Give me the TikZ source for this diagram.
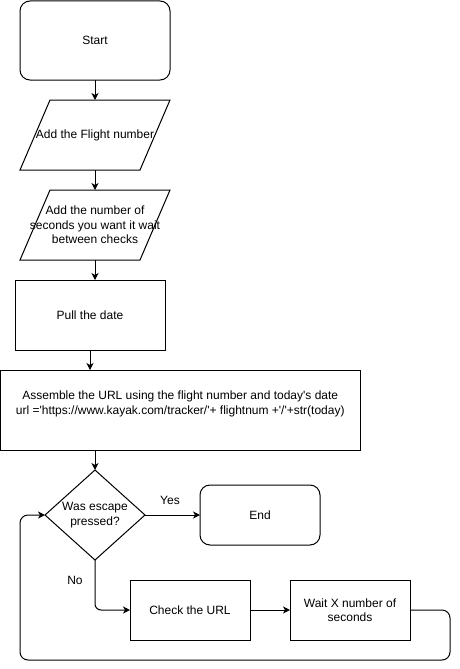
\documentclass[tikz,border=0pt]{standalone}
\usepackage{fontspec}
\setmainfont{Liberation Sans}
\usetikzlibrary{arrows.meta,calc}
\begin{document}
\begin{tikzpicture}[x=1pt,y=-1pt,
  every node/.style={font=\fontsize{12}{14.4}\selectfont, outer sep=0pt, inner sep=0pt, align=center},
  box/.style={draw, line width=1pt, rectangle},
  term/.style={draw, line width=1pt, rectangle, rounded corners=10pt},
  ghost/.style={rectangle},
  link/.style={line width=1pt, -{Stealth[length=7pt,width=7pt,inset=2pt]}},
  lbl/.style={}
]
\useasboundingbox (0,0) rectangle (459,669);

\node[term, minimum width=150pt, minimum height=79pt] (start) at (95,40.5) {Start};
\node[ghost, minimum width=150pt, minimum height=70pt] (p1) at (95,135) {Add the Flight number};
\draw[line width=1pt] ($(p1.north west)+(30,0)$) -- (p1.north east) -- ($(p1.south east)-(30,0)$) -- (p1.south west) -- cycle;
\node[ghost, minimum width=150pt, minimum height=70pt] (p2) at (95,225) {Add the number of\\seconds you want it wait\\between checks};
\draw[line width=1pt] ($(p2.north west)+(30,0)$) -- (p2.north east) -- ($(p2.south east)-(30,0)$) -- (p2.south west) -- cycle;
\node[box, minimum width=150pt, minimum height=70pt] (pull) at (90,315) {Pull the date};
\node[box, minimum width=359.5pt, minimum height=80pt] (asm) at (180.25,410) {Assemble the URL using the flight number and today\textquotesingle s date\\url =\textquotesingle https://www.kayak.com/tracker/\textquotesingle + flightnum +\textquotesingle /\textquotesingle +str(today)\\\mbox{}};
\node[ghost, minimum width=100pt, minimum height=90pt] (dec) at (95,515) {Was escape\\pressed?};
\draw[line width=1pt] (dec.north) -- (dec.east) -- (dec.south) -- (dec.west) -- cycle;
\node[term, minimum width=120pt, minimum height=60pt] (end) at (260,515) {End};
\node[box, minimum width=120pt, minimum height=60pt] (chk) at (190,610) {Check the URL};
\node[box, minimum width=120pt, minimum height=60pt] (wait) at (350,610) {Wait X number of\\seconds};

\node[lbl] (yes) at (170,500) {Yes};
\node[lbl] (no) at (75,580) {No};
\coordinate (loopR) at (450,660);
\coordinate (loopL) at (20,660);

\draw[link] (start.south) -- (p1.north);
\draw[link] (p1.south) -- (p2.north);
\draw[link] (p2.south) -- (p2.south |- pull.north);
\draw[link] (pull.south) -- (pull.south |- asm.north);
\draw[link] (dec.north |- asm.south) -- (dec.north);
\draw[link] (dec.east) -- (end.west);
\draw[link, rounded corners=6pt] (dec.south) |- (chk.west);
\draw[link] (chk.east) -- (wait.east -| wait.west);
\draw[link, rounded corners=8pt] (wait.east) -| (loopR) -- (loopL) |- (dec.west);
\end{tikzpicture}
\end{document}
